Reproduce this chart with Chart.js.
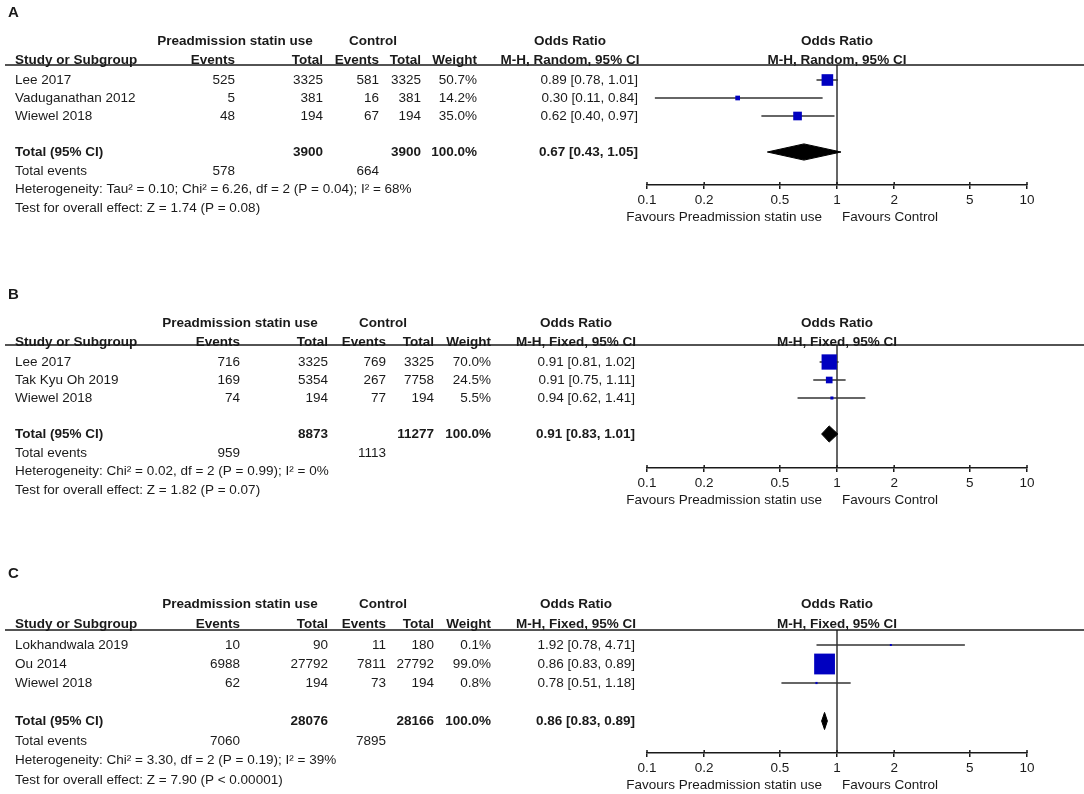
<!DOCTYPE html>
<html>
<head>
<meta charset="utf-8">
<script src="https://cdn.jsdelivr.net/npm/chart.js@4.4.0/dist/chart.umd.min.js"></script>
<style>
  body { margin: 0; background: #fff; overflow: hidden; }
  .panel { position: absolute; left: 0; width: 1084px; }
</style>
</head>
<body>
<div class="panel" style="top:0px"><canvas id="chartA"></canvas></div>
<div class="panel" style="top:281px"><canvas id="chartB"></canvas></div>
<div class="panel" style="top:564px"><canvas id="chartC"></canvas></div>
<script>
const oddsTicks = [0.1, 0.2, 0.5, 1, 2, 5, 10];

// panel A
const studiesA = ['Lee 2017', 'Vaduganathan 2012', 'Wiewel 2018'];
const statinEventsA = [525, 5, 48];
const statinTotalA = [3325, 381, 194];
const controlEventsA = [581, 16, 67];
const controlTotalA = [3325, 381, 194];
const weightA = [50.7, 14.2, 35.0];
const oddsA = [0.89, 0.30, 0.62];
const lowA = [0.78, 0.11, 0.40];
const highA = [1.01, 0.84, 0.97];
const pooledA = [0.67, 0.43, 1.05];
const sumTotalA = [3900, 3900];
const sumEventsA = [578, 664];
const hetA = 'Heterogeneity: Tau² = 0.10; Chi² = 6.26, df = 2 (P = 0.04); I² = 68%';
const testA = 'Test for overall effect: Z = 1.74 (P = 0.08)';

// panel B
const studiesB = ['Lee 2017', 'Tak Kyu Oh 2019', 'Wiewel 2018'];
const statinEventsB = [716, 169, 74];
const statinTotalB = [3325, 5354, 194];
const controlEventsB = [769, 267, 77];
const controlTotalB = [3325, 7758, 194];
const weightB = [70.0, 24.5, 5.5];
const oddsB = [0.91, 0.91, 0.94];
const lowB = [0.81, 0.75, 0.62];
const highB = [1.02, 1.11, 1.41];
const pooledB = [0.91, 0.83, 1.01];
const sumTotalB = [8873, 11277];
const sumEventsB = [959, 1113];
const hetB = 'Heterogeneity: Chi² = 0.02, df = 2 (P = 0.99); I² = 0%';
const testB = 'Test for overall effect: Z = 1.82 (P = 0.07)';

// panel C
const studiesC = ['Lokhandwala 2019', 'Ou 2014', 'Wiewel 2018'];
const statinEventsC = [10, 6988, 62];
const statinTotalC = [90, 27792, 194];
const controlEventsC = [11, 7811, 73];
const controlTotalC = [180, 27792, 194];
const weightC = [0.1, 99.0, 0.8];
const oddsC = [1.92, 0.86, 0.78];
const lowC = [0.78, 0.83, 0.51];
const highC = [4.71, 0.89, 1.18];
const pooledC = [0.86, 0.83, 0.89];
const sumTotalC = [28076, 28166];
const sumEventsC = [7060, 7895];
const hetC = 'Heterogeneity: Chi² = 3.30, df = 2 (P = 0.19); I² = 39%';
const testC = 'Test for overall effect: Z = 7.90 (P < 0.00001)';

const FONT = '"Liberation Sans", Arial, sans-serif';
const INK = '#1a1a1a';

function txt(ctx, s, x, y, align, bold) {
    ctx.font = (bold ? 'bold ' : '') + '13.5px ' + FONT;
    ctx.textAlign = align;
    ctx.textBaseline = 'middle';
    ctx.fillStyle = INK;
    ctx.fillText(s, x, y);
}

const ciText = (o, l, h) => o.toFixed(2) + ' [' + l.toFixed(2) + ', ' + h.toFixed(2) + ']';

const tablePlugin = {
    id: 'table',
    afterDraw(chart) {
        const p = chart.config.options.plugins.table;
        const ctx = chart.ctx;
        const x = chart.scales.x, y = chart.scales.y;
        const row = v => y.getPixelForValue(v);
        const c = p.cols;
        const area = chart.chartArea;
        ctx.save();

        // header rule
        ctx.strokeStyle = INK;
        ctx.lineWidth = 1.5;
        ctx.beginPath();
        ctx.moveTo(5, area.top);
        ctx.lineTo(chart.width, area.top);
        ctx.stroke();

        // tick marks poke above the axis too
        ctx.lineWidth = 1.5;
        oddsTicks.forEach(t => {
            const px = x.getPixelForValue(t);
            ctx.beginPath();
            ctx.moveTo(px, area.bottom - 3);
            ctx.lineTo(px, area.bottom);
            ctx.stroke();
        });

        ctx.font = 'bold 15px ' + FONT;
        ctx.textAlign = 'left';
        ctx.textBaseline = 'middle';
        ctx.fillStyle = INK;
        ctx.fillText(p.letter, 8, row(-2.75));

        const h1 = row(-1.15), h2 = row(-0.1);
        txt(ctx, 'Preadmission statin use', c.statinHead, h1, 'center', true);
        txt(ctx, 'Control', c.controlHead, h1, 'center', true);
        txt(ctx, 'Odds Ratio', c.orHead, h1, 'center', true);
        txt(ctx, 'Odds Ratio', x.getPixelForValue(1), h1, 'center', true);
        txt(ctx, 'Study or Subgroup', 15, h2, 'left', true);
        txt(ctx, 'Events', c.events, h2, 'right', true);
        txt(ctx, 'Total', c.total, h2, 'right', true);
        txt(ctx, 'Events', c.cEvents, h2, 'right', true);
        txt(ctx, 'Total', c.cTotal, h2, 'right', true);
        txt(ctx, 'Weight', c.weight, h2, 'right', true);
        txt(ctx, p.method, c.orHead, h2, 'center', true);
        txt(ctx, p.method, x.getPixelForValue(1), h2, 'center', true);

        p.studies.forEach((s, i) => {
            const yy = row(i + 1);
            txt(ctx, s, 15, yy, 'left');
            txt(ctx, String(p.sEv[i]), c.events, yy, 'right');
            txt(ctx, String(p.sTot[i]), c.total, yy, 'right');
            txt(ctx, String(p.cEv[i]), c.cEvents, yy, 'right');
            txt(ctx, String(p.cTot[i]), c.cTotal, yy, 'right');
            txt(ctx, p.weight[i].toFixed(1) + '%', c.weight, yy, 'right');
            txt(ctx, ciText(p.odds[i], p.low[i], p.high[i]), c.orRight, yy, 'right');
        });

        const ty = row(5);
        txt(ctx, 'Total (95% CI)', 15, ty, 'left', true);
        txt(ctx, String(p.sumTotal[0]), c.total, ty, 'right', true);
        txt(ctx, String(p.sumTotal[1]), c.cTotal, ty, 'right', true);
        txt(ctx, '100.0%', c.weight, ty, 'right', true);
        txt(ctx, ciText(p.pooled[0], p.pooled[1], p.pooled[2]), c.orRight, ty, 'right', true);

        const ey = row(6.05);
        txt(ctx, 'Total events', 15, ey, 'left');
        txt(ctx, String(p.sumEvents[0]), c.events, ey, 'right');
        txt(ctx, String(p.sumEvents[1]), c.cEvents, ey, 'right');
        txt(ctx, p.het, 15, row(7.05), 'left');
        txt(ctx, p.test, 15, row(8.1), 'left');

        const fy = area.bottom + 32;
        const one = x.getPixelForValue(1);
        txt(ctx, 'Favours Preadmission statin use', one - 15, fy, 'right');
        txt(ctx, 'Favours Control', one + 5, fy, 'left');
        ctx.restore();
    }
};

function makePanel(id, p, lay) {
    const yMin = 1 - (lay.row1 - lay.lineY) / lay.rowPx;
    const yMax = yMin + (lay.axisY - lay.lineY) / lay.rowPx;
    const canvas = document.getElementById(id);
    canvas.width = 1084;
    canvas.height = lay.axisY + 45;
    canvas.style.width = '1084px';
    canvas.style.height = (lay.axisY + 45) + 'px';

    const ciSets = p.studies.map((s, i) => ({
        type: 'scatter',
        data: [{ x: p.low[i], y: i + 1 }, { x: p.high[i], y: i + 1 }],
        showLine: true,
        borderColor: '#333',
        borderWidth: 1.5,
        pointRadius: 0,
        order: 3
    }));

    const squares = {
        type: 'scatter',
        data: p.odds.map((o, i) => ({ x: o, y: i + 1 })),
        pointStyle: 'rect',
        pointRadius: p.weight.map(w => (2 + 0.19 * w) / Math.SQRT2),
        backgroundColor: '#0000c0',
        borderWidth: 0,
        order: 1
    };

    const diamond = {
        type: 'scatter',
        data: [
            { x: p.pooled[1], y: 5 },
            { x: p.pooled[0], y: 5 - 0.45 },
            { x: p.pooled[2], y: 5 },
            { x: p.pooled[0], y: 5 + 0.45 },
            { x: p.pooled[1], y: 5 }
        ],
        showLine: true,
        fill: 'shape',
        backgroundColor: '#000',
        borderColor: '#000',
        borderWidth: 1,
        pointRadius: 0,
        order: 0
    };

    const refLine = {
        type: 'scatter',
        data: [{ x: 1, y: yMin }, { x: 1, y: yMax }],
        showLine: true,
        borderColor: '#333',
        borderWidth: 1.5,
        pointRadius: 0,
        order: 4
    };

    return new Chart(canvas.getContext('2d'), {
        type: 'scatter',
        data: { datasets: [squares, diamond, ...ciSets, refLine] },
        options: {
            responsive: false,
            animation: false,
            layout: { padding: { left: 647, right: 57, top: lay.lineY, bottom: 0 } },
            scales: {
                x: {
                    type: 'logarithmic',
                    min: 0.1,
                    max: 10,
                    afterBuildTicks: s => { s.ticks = oddsTicks.map(v => ({ value: v })); },
                    afterFit: s => { s.height = 45; },
                    ticks: {
                        color: INK,
                        padding: 3,
                        maxRotation: 0,
                        font: { family: FONT, size: 13.5 },
                        callback: v => String(v)
                    },
                    grid: { display: true, drawOnChartArea: false, tickLength: 4, color: INK, lineWidth: 1.5 },
                    border: { display: true, color: INK, width: 1.5 }
                },
                y: {
                    type: 'linear',
                    reverse: true,
                    min: yMin,
                    max: yMax,
                    display: false
                }
            },
            plugins: {
                legend: { display: false },
                tooltip: { enabled: false },
                table: p
            }
        },
        plugins: [tablePlugin]
    });
}

const colsA = { events: 235, total: 323, cEvents: 379, cTotal: 421, weight: 477, orRight: 638, orHead: 570, statinHead: 235, controlHead: 373 };
const colsBC = { events: 240, total: 328, cEvents: 386, cTotal: 434, weight: 491, orRight: 635, orHead: 576, statinHead: 240, controlHead: 383 };

makePanel('chartA', {
    letter: 'A', method: 'M-H, Random, 95% CI', cols: colsA,
    studies: studiesA, sEv: statinEventsA, sTot: statinTotalA, cEv: controlEventsA, cTot: controlTotalA,
    weight: weightA, odds: oddsA, low: lowA, high: highA, pooled: pooledA,
    sumTotal: sumTotalA, sumEvents: sumEventsA, het: hetA, test: testA
}, { lineY: 65, row1: 80, rowPx: 18, axisY: 185 });

makePanel('chartB', {
    letter: 'B', method: 'M-H, Fixed, 95% CI', cols: colsBC,
    studies: studiesB, sEv: statinEventsB, sTot: statinTotalB, cEv: controlEventsB, cTot: controlTotalB,
    weight: weightB, odds: oddsB, low: lowB, high: highB, pooled: pooledB,
    sumTotal: sumTotalB, sumEvents: sumEventsB, het: hetB, test: testB
}, { lineY: 64, row1: 81, rowPx: 18, axisY: 187 });

makePanel('chartC', {
    letter: 'C', method: 'M-H, Fixed, 95% CI', cols: colsBC,
    studies: studiesC, sEv: statinEventsC, sTot: statinTotalC, cEv: controlEventsC, cTot: controlTotalC,
    weight: weightC, odds: oddsC, low: lowC, high: highC, pooled: pooledC,
    sumTotal: sumTotalC, sumEvents: sumEventsC, het: hetC, test: testC
}, { lineY: 66, row1: 81, rowPx: 19, axisY: 189 });
</script>
</body>
</html>
